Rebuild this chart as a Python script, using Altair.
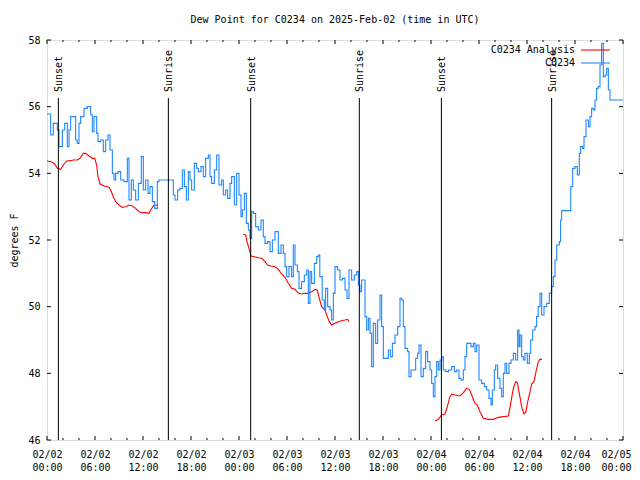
import altair as alt
import pandas as pd

# ---------------- data ----------------
blue_h = [0.0,0.125,0.46,0.79,1.29,1.5,1.92,2.21,2.54,2.75,2.96,3.29,3.58,3.79,4.0,4.21,4.625,5.04,5.46,5.67,5.875,6.21,6.375,6.71,7.04,7.33,7.625,7.875,8.17,8.375,8.58,8.875,9.21,9.625,10.04,10.25,10.54,10.79,11.08,11.42,11.79,12.04,12.33,12.625,12.875,13.17,13.46,13.79,14.0,
          15.5,15.79,16.0,16.33,16.625,16.92,17.17,17.42,17.67,17.875,18.08,18.42,18.71,18.92,19.25,19.54,19.83,20.17,20.375,20.58,20.92,21.21,21.5,21.83,22.04,22.33,22.58,22.875,23.08,23.42,23.71,24.0,24.25,24.42,24.67,24.92,25.17,25.375,25.58,25.79,26.08,26.42,26.75,27.04,27.25,27.58,27.875,28.17,28.5,28.71,28.92,29.25,29.54,
          29.75,29.96,30.25,30.58,30.79,31.0,31.3,31.5,31.83,32.17,32.46,32.67,32.875,33.08,33.42,33.71,33.92,34.1,34.4,34.67,34.83,35.08,35.375,35.58,35.79,36.0,36.33,36.625,36.92,37.25,37.5,37.75,38.08,38.42,38.71,38.92,39.125,39.33,39.58,39.75,39.96,40.17,40.375,40.58,40.79,41.08,41.33,41.625,41.83,42.04,42.33,42.67,42.92,43.17,43.5,43.83,44.125,44.33,44.54,
          44.75,45.08,45.25,45.5,45.79,46.08,46.33,46.5,46.75,47.04,47.33,47.58,47.875,48.08,48.29,48.5,48.71,48.92,49.125,49.33,49.54,49.83,50.17,50.58,50.92,51.2,51.5,51.75,52.04,52.25,52.46,52.67,53.0,53.29,53.5,53.71,54.0,54.33,54.67,54.96,55.25,55.5,55.67,55.92,56.08,56.33,56.625,56.83,57.04,57.25,57.46,57.75,58.0,58.29,58.58,58.83,59.0,
          59.125,59.33,59.54,59.75,60.04,60.29,60.46,60.71,61.0,61.2,61.4,61.625,61.83,62.125,62.46,62.79,63.08,63.29,63.5,63.71,64.04,64.2,64.33,65.29,65.46,65.71,66.0,66.29,66.54,66.71,66.96,67.125,67.375,67.67,67.875,68.08,68.29,68.5,68.7,68.9,69.125,69.33,69.54,69.75,69.96,70.17,70.375,72.0]
blue_v = [55.78,55.78,55.15,55.5,55.3,54.8,55.3,55.5,54.8,55.3,55.7,55.7,55.0,54.9,55.5,55.7,55.95,56.0,55.75,55.25,55.7,55.2,54.95,55.0,54.65,55.0,55.15,54.7,54.0,53.8,54.0,54.05,53.8,53.75,54.45,53.2,53.8,53.5,53.2,53.7,54.5,53.5,53.8,53.4,53.6,53.15,52.95,53.75,53.8,
          53.8,53.35,53.2,53.5,53.55,54.1,53.6,53.2,54.05,53.8,53.5,54.3,54.15,54.05,54.2,53.9,54.45,54.55,53.9,53.7,54.1,54.55,53.65,53.8,53.35,53.5,53.25,53.7,53.9,53.05,54.0,53.35,52.7,52.9,53.4,52.5,52.3,52.05,52.85,52.8,52.4,52.3,52.6,52.1,51.9,51.95,51.65,52.0,52.25,52.25,51.6,51.85,51.6,
          51.2,50.9,51.2,50.9,51.85,51.25,51.05,50.55,50.75,50.95,51.1,50.1,51.05,50.7,51.3,51.5,51.55,50.9,50.2,49.9,50.55,50.0,49.9,49.6,50.4,51.2,51.1,50.8,50.85,50.5,50.25,51.1,50.8,50.95,51.05,50.65,50.45,50.8,50.8,49.7,49.3,49.65,49.2,48.2,49.5,48.9,49.6,50.35,49.4,48.45,48.45,48.7,48.5,48.9,49.15,49.4,50.25,50.2,49.4,
          48.75,48.65,47.9,48.1,48.1,48.45,48.6,48.85,47.9,48.15,48.65,48.35,48.1,47.7,47.3,47.9,48.35,48.1,48.4,48.5,48.1,48.05,48.1,48.2,48.05,48.1,47.85,47.8,48.1,48.5,48.9,48.9,48.8,48.9,48.65,48.85,47.8,47.7,47.6,47.5,47.25,47.05,47.5,48.1,48.25,47.85,47.55,47.3,48.0,48.3,48.0,48.3,48.4,48.6,48.4,49.3,48.8,
          49.15,48.5,48.4,48.6,48.3,48.6,49.0,49.3,49.4,49.7,50.0,50.4,49.75,50.0,50.1,50.4,50.6,50.9,51.4,51.85,51.95,52.6,52.88,52.88,53.6,54.15,54.2,53.95,54.6,54.8,54.75,55.1,55.6,55.4,55.7,55.95,55.9,56.2,56.55,56.6,57.25,57.9,56.9,56.95,57.15,56.5,56.2,56.2]

red_h = [0.0,0.54,0.96,1.29,1.71,2.04,2.46,2.96,3.29,3.79,4.125,4.54,4.83,5.25,5.67,5.96,6.21,6.375,6.625,7.125,7.75,7.96,8.29,8.58,9.0,9.42,9.83,10.25,10.67,11.08,11.5,11.92,12.33,12.75,12.96,13.29,13.58,13.875,
         24.54,24.83,25.0,25.25,25.5,25.92,26.42,26.83,27.25,27.58,28.0,28.5,28.92,29.33,29.75,30.17,30.58,31.0,31.42,31.83,32.25,32.67,33.08,33.5,33.79,34.04,34.33,34.75,35.04,35.29,35.58,36.0,36.42,36.83,37.25,37.58,37.75,
         48.5,48.92,49.33,49.75,50.04,50.375,50.58,51.0,51.625,52.04,52.46,52.79,53.08,53.5,53.79,54.125,54.54,55.17,55.79,56.42,57.04,57.67,57.96,58.29,58.58,58.79,59.04,59.33,59.625,59.875,60.04,60.29,60.58,60.875,61.125,61.42,61.625,61.875]
red_v = [54.37,54.35,54.28,54.15,54.12,54.25,54.37,54.38,54.4,54.4,54.45,54.6,54.6,54.52,54.45,54.45,54.25,53.9,53.68,53.62,53.58,53.5,53.3,53.15,53.05,52.98,53.0,53.05,53.02,52.95,52.85,52.82,52.82,52.8,52.9,53.02,53.05,53.05,
         52.17,52.15,51.95,51.75,51.52,51.5,51.47,51.45,51.35,51.25,51.22,51.2,51.12,50.98,50.88,50.7,50.55,50.52,50.4,50.38,50.4,50.4,50.45,50.52,50.5,50.25,50.0,49.9,49.7,49.55,49.45,49.5,49.55,49.58,49.6,49.62,49.55,
         46.57,46.62,46.75,46.78,47.0,47.3,47.37,47.35,47.32,47.42,47.55,47.52,47.35,47.1,47.05,46.85,46.65,46.62,46.62,46.68,46.7,46.72,47.1,47.55,47.75,47.72,47.4,47.0,46.78,46.85,47.1,47.35,47.68,47.75,48.05,48.35,48.42,48.42]
red_seg = [1] * 38 + [2] * 37 + [3] * 38

sun_h = [1.42, 15.17, 25.46, 39.04, 49.3, 63.08]
sun_label = ["Sunset", "Sunrise", "Sunset", "Sunrise", "Sunset", "Sunrise"]

x_ticks = list(range(0, 73, 2))
x_labels = list(range(0, 73, 6))
y_ticks = [46, 48, 50, 52, 54, 56, 58]

legend_names = ["C0234 Analysis", "C0234"]
legend_colors = ["#ff0000", "#1e88ff"]

# ---------------- frames ----------------
blue = pd.DataFrame({"h": blue_h, "v": blue_v})
red = pd.DataFrame({"h": red_h, "v": red_v, "seg": red_seg[:len(red_h)]})
sun = pd.DataFrame({"h": sun_h, "label": sun_label})
xt = pd.DataFrame({"h": x_ticks, "major": [t % 6 == 0 for t in x_ticks]})
yt = pd.DataFrame({"v": y_ticks})

FONT = "DejaVu Sans Mono"
W, H = 576, 400

xscale = alt.Scale(domain=[0, 72], nice=False, zero=False)
yscale = alt.Scale(domain=[46, 58], nice=False, zero=False)

xaxis = alt.Axis(values=x_labels, grid=False, domain=False, ticks=False, tickSize=0,
                 labelFont=FONT, labelFontSize=10, labelColor="black", labelPadding=9,
                 labelLineHeight=13, labelFlush=False, labelOverlap=False, title=None,
                 labelAlign=alt.ExprRef("datum.value == 72 ? 'right' : 'center'"),
                 labelOffset=alt.ExprRef("datum.value == 72 ? 8 : 0"),
                 labelExpr="['02/0' + (2 + floor(datum.value/24)), (datum.value % 24 < 10 ? '0' : '') + (datum.value % 24) + ':00']")
yaxis = alt.Axis(values=y_ticks, grid=False, domain=False, ticks=False, tickSize=0, format="d",
                 labelFont=FONT, labelFontSize=10, labelColor="black", labelPadding=7,
                 labelFlush=False, labelOverlap=False, title="degrees F",
                 titleFont=FONT, titleFontSize=10, titleFontWeight="normal", titleColor="black",
                 titleX=-33, titleY=200, titleAngle=270, titleAlign="center", titleBaseline="middle")

X = lambda: alt.X("h:Q", scale=xscale, axis=xaxis)
Y = lambda: alt.Y("v:Q", scale=yscale, axis=yaxis)

blue_line = alt.Chart(blue).mark_line(color="#1e88ff", strokeWidth=1.1, interpolate="step-after").encode(x=X(), y=Y())
red_line = alt.Chart(red).mark_line(color="#ff0000", strokeWidth=1.1).encode(x=X(), y=Y(), detail="seg:N")

sun_rule = alt.Chart(sun).mark_rule(color="black", strokeWidth=1).encode(x=X(), y=alt.value(58), y2=alt.value(H))
sun_text = alt.Chart(sun).mark_text(angle=270, align="left", baseline="middle", font=FONT, fontSize=10,
                                    color="black", dy=1).encode(x=X(), y=alt.value(52), text="label:N")

xt_major = xt[xt.major]
xt_minor = xt[~xt.major]
tick_layers = []
for df, ln in [(xt_major, 4), (xt_minor, 2)]:
    tick_layers.append(alt.Chart(df).mark_rule(color="black", strokeWidth=1).encode(x=X(), y=alt.value(H), y2=alt.value(H - ln)))
    tick_layers.append(alt.Chart(df).mark_rule(color="black", strokeWidth=1).encode(x=X(), y=alt.value(0), y2=alt.value(ln)))
tick_layers.append(alt.Chart(yt).mark_rule(color="black", strokeWidth=1).encode(y=Y(), x=alt.value(0), x2=alt.value(4)))
tick_layers.append(alt.Chart(yt).mark_rule(color="black", strokeWidth=1).encode(y=Y(), x=alt.value(W), x2=alt.value(W - 4)))

legend_layers = []
for i, (name, col) in enumerate(zip(legend_names, legend_colors)):
    row = pd.DataFrame({"name": [name], "color": [col]})
    ypix = 10 + 13 * i
    legend_layers.append(alt.Chart(row).mark_text(align="right", baseline="middle", font=FONT, fontSize=10,
                                                  color="black").encode(x=alt.value(528), y=alt.value(ypix), text="name:N"))
    legend_layers.append(alt.Chart(row).mark_rule(strokeWidth=1.1).encode(
        x=alt.value(534), x2=alt.value(563), y=alt.value(ypix), color=alt.Color("color:N", scale=None)))

chart = alt.layer(red_line, blue_line, sun_rule, sun_text, *tick_layers, *legend_layers).properties(
    width=W, height=H,
    title=alt.Title("Dew Point for C0234 on 2025-Feb-02 (time in UTC)", font=FONT, fontSize=10,
                    fontWeight="normal", color="black", anchor="middle", offset=10),
    autosize=alt.AutoSizeParams(type="none"),
    padding={"left": 39, "top": 32, "right": 9, "bottom": 32},
).configure_view(stroke="black", strokeWidth=1).configure(background="white")

chart.save("out.html", embed_options={"renderer": "svg", "actions": False})
